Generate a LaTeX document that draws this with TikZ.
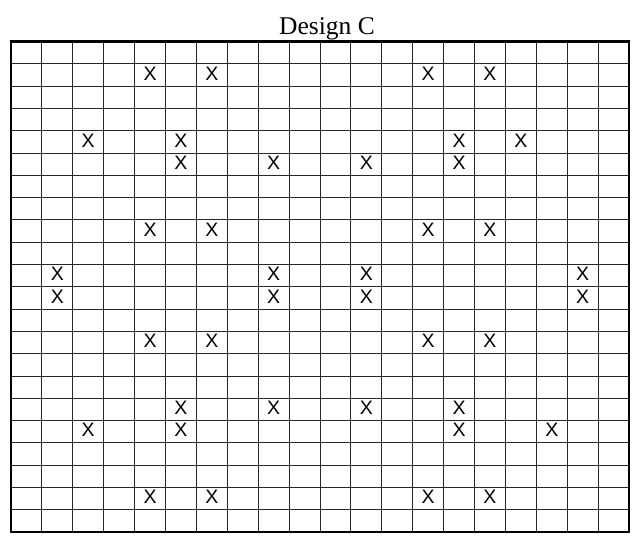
\documentclass[tikz,border=0pt]{standalone}
\usepackage{fontspec}
\setmainfont{Liberation Serif}
\newfontfamily\xfont{Liberation Sans}
\begin{document}
\begin{tikzpicture}[x=1pt,y=-1pt,
  gridline/.style={line width=0.9pt, black!85},
  frame/.style={line width=2.2pt, black},
  xmark/.style={font=\xfont\fontsize{19.5}{19.5}\selectfont, inner sep=0pt, yshift=1.5pt},
  titletext/.style={font=\fontsize{25.5}{25.5}\selectfont, inner sep=0pt, anchor=base}]
\useasboundingbox (0,0) rectangle (637,540);
\def\L{11}\def\R{629}\def\T{41.5}\def\B{532}
\def\cw{30.9}\def\rh{22.3}
\foreach \i in {1,...,19} \draw[gridline] ({\L+\i*\cw},\T) -- ({\L+\i*\cw},\B);
\foreach \j in {1,...,21} \draw[gridline] (\L,{\T+\j*\rh}) -- (\R,{\T+\j*\rh});
\draw[frame] (\L,\T) rectangle (\R,\B);
\node[titletext] (title) at (327,35) {Design C};
\foreach \r/\c in {1/4,1/6,1/13,1/15,
                   4/2,4/5,4/14,4/16,
                   5/5,5/8,5/11,5/14,
                   8/4,8/6,8/13,8/15,
                   10/1,10/8,10/11,10/18,
                   11/1,11/8,11/11,11/18,
                   13/4,13/6,13/13,13/15,
                   16/5,16/8,16/11,16/14,
                   17/2,17/5,17/14,17/17,
                   20/4,20/6,20/13,20/15}
  \node[xmark] (x\r-\c) at ({\L+(\c+0.5)*\cw},{\T+(\r+0.5)*\rh}) {X};
\end{tikzpicture}
\end{document}
